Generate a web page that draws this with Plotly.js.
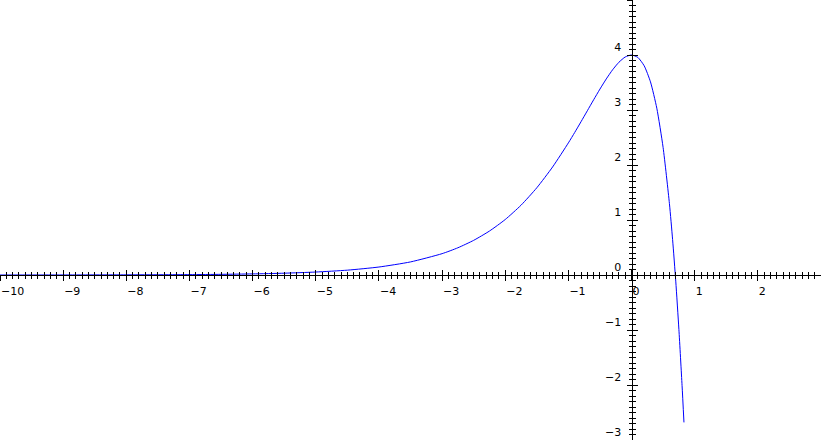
<!DOCTYPE html>
<html>
<head>
<meta charset="utf-8">
<script src="https://cdn.plot.ly/plotly-3.0.1.min.js"></script>
<style>
  html, body { margin: 0; padding: 0; background: #ffffff; }
  #chart { width: 821px; height: 440px; }
</style>
</head>
<body>
<div id="chart"></div>
<script>
// Points
var xs = [-10, -9, -8, -7, -6.5, -6, -5.5, -5, -4.5, -4, -3.5, -3, -2.75, -2.5, -2.25, -2,
          -1.75, -1.5, -1.25, -1, -0.9, -0.8, -0.7, -0.6, -0.5, -0.4, -0.3, -0.2, -0.1, 0,
          0.1, 0.2, 0.3, 0.4, 0.5, 0.6, 0.65, 0.7, 0.75, 0.8, 0.83];
var ys = [0.000, 0.001, 0.003, 0.007, 0.012, 0.020, 0.033, 0.054, 0.088, 0.145, 0.238, 0.388, 0.495, 0.630, 0.799, 1.009,
          1.269, 1.586, 1.964, 2.402, 2.591, 2.787, 2.986, 3.186, 3.381, 3.565, 3.731, 3.868, 3.964, 4.000,
          3.956, 3.804, 3.511, 3.033, 2.317, 1.297, 0.647, -0.111, -0.991, -2.008, -2.68];

var xRange = [-10, 3];
var yRange = [-3, 5];
var xTickStep = 1, xMinorStep = 0.1;
var yTickStep = 1, yMinorStep = 0.1;

var xPos = (0 - yRange[0]) / (yRange[1] - yRange[0]);   // where the x axis sits (y = 0)
var yPos = (0 - xRange[0]) / (xRange[1] - xRange[0]);   // where the y axis sits (x = 0)

var tickFont = {family: 'DejaVu Sans', size: 11, color: '#000000'};

var trace = {
  x: xs, y: ys, type: 'scatter', mode: 'lines',
  line: {color: '#0000ff', width: 1, shape: 'spline', smoothing: 0.6},
  xaxis: 'x', yaxis: 'y', hoverinfo: 'skip', cliponaxis: true
};

var baseX = {
  range: xRange, anchor: 'free', position: xPos, showgrid: false, zeroline: false,
  dtick: xTickStep, tick0: 0, tickcolor: '#000000', tickwidth: 1, ticklen: 5
};
var baseY = {
  range: yRange, anchor: 'free', position: yPos, showgrid: false, zeroline: false,
  dtick: yTickStep, tick0: 0, tickcolor: '#000000', tickwidth: 1, ticklen: 5
};

var layout = {
  width: 821, height: 440,
  margin: {l: 0, r: 0, t: 0, b: 0, pad: 0},
  paper_bgcolor: '#ffffff', plot_bgcolor: '#ffffff',
  showlegend: false,
  xaxis: Object.assign({}, baseX, {
    showline: true, linecolor: '#000000', linewidth: 1,
    ticks: 'outside', showticklabels: true, tickfont: tickFont,
    ticklabelposition: 'outside right', ticklabelstandoff: 6,
    minor: {ticks: 'outside', ticklen: 3, dtick: xMinorStep, tick0: 0, tickcolor: '#000000', tickwidth: 1, showgrid: false}
  }),
  xaxis2: Object.assign({}, baseX, {
    overlaying: 'x', matches: 'x', showline: false,
    ticks: 'inside', showticklabels: false,
    minor: {ticks: 'inside', ticklen: 3, dtick: xMinorStep, tick0: 0, tickcolor: '#000000', tickwidth: 1, showgrid: false}
  }),
  yaxis: Object.assign({}, baseY, {
    showline: true, linecolor: '#000000', linewidth: 1,
    ticks: 'outside', showticklabels: true, tickfont: tickFont,
    ticklabelposition: 'outside top', ticklabelstandoff: 8,
    minor: {ticks: 'outside', ticklen: 3, dtick: yMinorStep, tick0: 0, tickcolor: '#000000', tickwidth: 1, showgrid: false}
  }),
  yaxis2: Object.assign({}, baseY, {
    overlaying: 'y', matches: 'y', showline: false,
    ticks: 'inside', showticklabels: false,
    minor: {ticks: 'inside', ticklen: 3, dtick: yMinorStep, tick0: 0, tickcolor: '#000000', tickwidth: 1, showgrid: false}
  })
};

// invisible helper trace so the overlaid axes get drawn
var helper = {x: [xRange[0]], y: [yRange[0]], type: 'scatter', mode: 'markers',
  marker: {opacity: 0}, xaxis: 'x2', yaxis: 'y2', hoverinfo: 'skip'};

Plotly.newPlot('chart', [helper, trace], layout, {displayModeBar: false, staticPlot: true});
</script>
</body>
</html>
